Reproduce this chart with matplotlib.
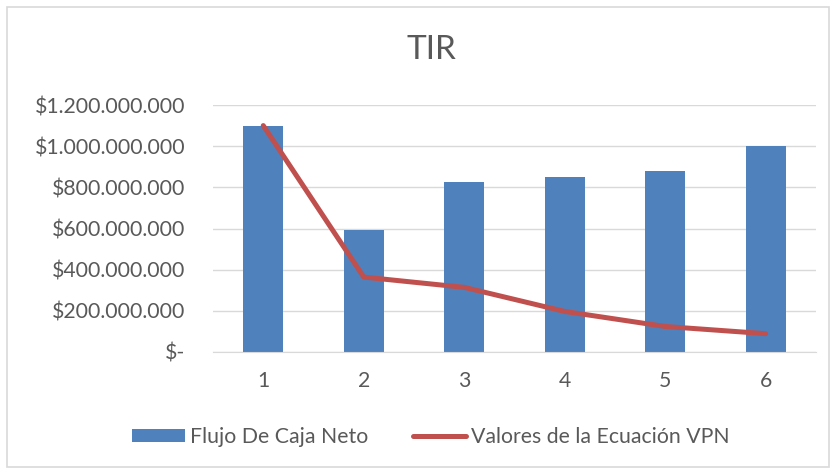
import matplotlib
matplotlib.use("Agg")
import matplotlib.pyplot as plt
from matplotlib.patches import Rectangle
from matplotlib.ticker import FuncFormatter
import numpy as np

plt.rcParams['font.family'] = ['Lato', 'DejaVu Sans']

categories = ["1", "2", "3", "4", "5", "6"]
flujo = [1100e6, 595e6, 825e6, 850e6, 880e6, 1000e6]
vpn = [1100e6, 364e6, 314e6, 197e6, 124e6, 89e6]
yticks = [0, 200e6, 400e6, 600e6, 800e6, 1000e6, 1200e6]

W, H = 832, 472
fig = plt.figure(figsize=(W / 100, H / 100), dpi=100)
fig.patches.append(Rectangle((7 / W, 5 / H), 822 / W, 460 / H, transform=fig.transFigure,
                             fill=False, edgecolor='#D9D9D9', linewidth=1.2))

ax = fig.add_axes([213 / W, 1 - 352 / H, (816 - 213) / W, (352 - 105) / H])
x = np.arange(len(categories))
bars = ax.bar(x, flujo, width=0.4, color='#4F81BD', label='Flujo De Caja Neto', zorder=2)
line, = ax.plot(x, vpn, color='#C0504D', linewidth=3.6, solid_capstyle='round',
                label='Valores de la Ecuación VPN', zorder=3)

ax.set_xlim(-0.5, len(categories) - 0.5)
ax.set_ylim(0, 1200e6)
ax.set_yticks(yticks)
ax.set_xticks(x)
ax.set_xticklabels(categories)


def fmt(v, pos):
    if v == 0:
        return "$-"
    return "$" + f"{int(v):,}".replace(",", ".")


ax.yaxis.set_major_formatter(FuncFormatter(fmt))
ax.grid(axis='y', color='#D9D9D9', linewidth=1, zorder=0)
for s in ['top', 'right', 'left']:
    ax.spines[s].set_visible(False)
ax.spines['bottom'].set_color('#D9D9D9')
ax.tick_params(axis='both', length=0, colors='#595959', labelsize=15.3)
ax.tick_params(axis='y', pad=20)
ax.tick_params(axis='x', pad=14)

fig.text(431 / W, 1 - 50 / H, "TIR", ha='center', va='center', fontsize=24,
         color='#595959')

leg = ax.legend(handles=[bars, line], loc='center', bbox_to_anchor=(431 / W, 1 - 437 / H),
                bbox_transform=fig.transFigure, ncol=2, frameon=False, fontsize=15.3,
                handlelength=2.5, handleheight=0.55, columnspacing=2.1, handletextpad=0.23)
for t in leg.get_texts():
    t.set_color('#595959')

fig.savefig("out.png", dpi=100)
